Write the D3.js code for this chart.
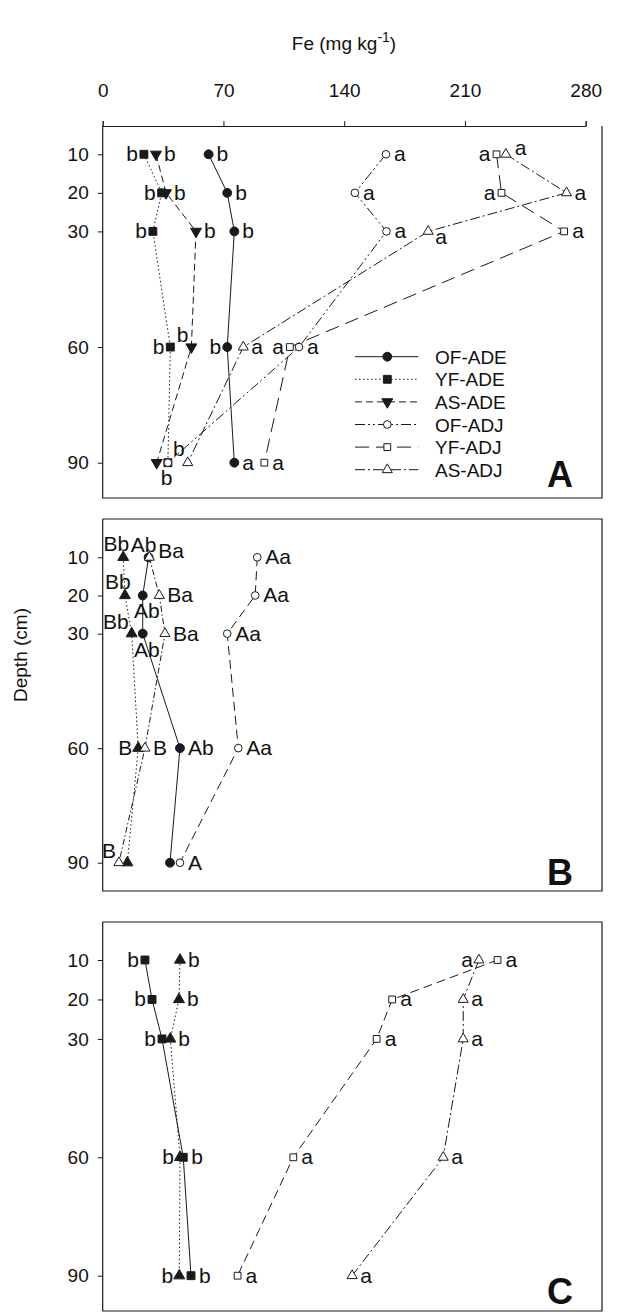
<!DOCTYPE html>
<html>
<head>
<meta charset="utf-8">
<script src="https://cdn.jsdelivr.net/npm/d3@7"></script>
<style>
  body { margin: 0; background: #fff; }
  svg text { font-family: "Liberation Sans", Arial, sans-serif; fill: #111; }
</style>
</head>
<body>
<div id="chart"></div>
<script>
// ---- data ----
var depths = [10, 20, 30, 60, 90];
var depthTicks = [10, 20, 30, 60, 90];
var feTicks = [0, 70, 140, 210, 280];
var seriesNames = ["OF-ADE", "YF-ADE", "AS-ADE", "OF-ADJ", "YF-ADJ", "AS-ADJ"];

// panel A
var aOFADE = [61.4, 72.2, 76.3, 72.2, 76.3];
var aYFADE = [23.9, 34.2, 29.1, 39.2, 37.8];
var aASADE = [30.9, 36.7, 54.1, 51.4, 31.3];
var aOFADJ = [164.2, 146.2, 164.5, 113.8, 37.8];
var aYFADJ = [228.3, 231.2, 267.5, 108.5, 93.7];
var aASADJ = [233.7, 268.9, 188.7, 81.5, 49.3];
var aLetOFADE = ["b", "b", "b", "b", "a"];
var aLetYFADE = ["b", "b", "b", "b", "b"];
var aLetASADE = ["b", "b", "b", "b", "b"];
var aLetOFADJ = ["a", "a", "a", "a", ""];
var aLetYFADJ = ["a", "a", "a", "a", "a"];
var aLetASADJ = ["a", "a", "a", "a", ""];

// panel B
var bOFADE = [26.6, 23.2, 23.2, 44.8, 39.0];
var bASADE = [11.9, 12.9, 16.8, 20.6, 14.3];
var bASADJ = [27.0, 32.8, 36.1, 24.5, 9.4];
var bOFADJ = [89.6, 88.4, 72.2, 78.6, 44.8];
var bLetOFADE = ["Ab", "Ab", "Ab", "Ab", ""];
var bLetASADE = ["Bb", "Bb", "Bb", "B", ""];
var bLetASADJ = ["Ba", "Ba", "Ba", "B", "B"];
var bLetOFADJ = ["Aa", "Aa", "Aa", "Aa", "A"];

// panel C
var cYFADE = [24.5, 28.6, 34.4, 46.7, 51.2];
var cASADE = [44.8, 44.2, 39.2, 44.8, 44.4];
var cYFADJ = [228.9, 167.8, 158.8, 110.5, 78.2];
var cASADJ = [218.1, 209.0, 209.0, 197.4, 144.6];
var cLetYFADE = ["b", "b", "b", "b", "b"];
var cLetASADE = ["b", "b", "b", "b", "b"];
var cLetYFADJ = ["a", "a", "a", "a", "a"];
var cLetASADJ = ["a", "a", "a", "a", "a"];

function init() {
    var w = 624;
    var h = 1312;
    var ink = "#1a1a1a";
    var letterSize = 21;

    var svg = d3.select("#chart").append("svg")
        .attr("width", w)
        .attr("height", h);

    var xScale = d3.scaleLinear().domain([0, 280]).range([102.7, 585.7]);
    var frameRight = 602;

    // marker + line looks
    var sym = {
        circle: d3.symbolCircle,
        square: d3.symbolSquare,
        tri: d3.symbolTriangle
    };
    var dash = {
        solid: null,
        dot: "1.5,2.5",
        dash: "7,4",
        dashDotDot: "10,3,2,3,2,3",
        longDash: "14,7",
        dashDot: "10,3,2,3",
        medDash: "9,5",
        dotDash: "6,2.5,1.5,2.5"
    };

    // label offsets [dx, dy, anchor]
    var place = {
        r: [8, 7, "start"],
        l: [-6, 7, "end"],
        ur: [9, 1, "start"],
        ul: [-3, -5, "end"],
        lr: [7, 13, "start"],
        t: [-5, -5, "middle"],
        tl: [-7, -6, "middle"],
        b: [4, 23, "middle"],
        tr: [5, -7, "start"],
        bb: [10, 22, "middle"]
    };

    var panels = [
        {
            letter: "A", top: 126, bottom: 498, y10: 154.3, y90: 462.7,
            series: [
                { vals: aOFADE, lets: aLetOFADE, shape: "circle", filled: true, line: "solid", pos: ["r", "r", "r", "l", "r"] },
                { vals: aYFADE, lets: aLetYFADE, shape: "square", filled: true, line: "dot", pos: ["l", "l", "l", "l", "tr"] },
                { vals: aASADE, lets: aLetASADE, shape: "tri", down: true, filled: true, line: "dash", pos: ["r", "r", "r", "ul", "bb"] },
                { vals: aOFADJ, lets: aLetOFADJ, shape: "circle", filled: false, line: "dashDotDot", pos: ["r", "r", "r", "r", "r"] },
                { vals: aYFADJ, lets: aLetYFADJ, shape: "square", filled: false, line: "longDash", pos: ["l", "l", "r", "l", "r"] },
                { vals: aASADJ, lets: aLetASADJ, shape: "tri", filled: false, line: "dashDot", pos: ["ur", "r", "lr", "r", "r"] }
            ]
        },
        {
            letter: "B", top: 519, bottom: 891, y10: 557.3, y90: 862.7,
            series: [
                { vals: bOFADE, lets: bLetOFADE, shape: "circle", filled: true, line: "solid", pos: ["t", "b", "b", "r", "r"] },
                { vals: bASADE, lets: bLetASADE, shape: "tri", filled: true, line: "dot", pos: ["tl", "tl", "ul", "l", "l"] },
                { vals: bASADJ, lets: bLetASADJ, shape: "tri", filled: false, line: "dotDash", pos: ["ur", "r", "r", "r", "ul"] },
                { vals: bOFADJ, lets: bLetOFADJ, shape: "circle", filled: false, line: "medDash", pos: ["r", "r", "r", "r", "r"] }
            ]
        },
        {
            letter: "C", top: 922, bottom: 1311, y10: 960, y90: 1275.7,
            series: [
                { vals: cYFADE, lets: cLetYFADE, shape: "square", filled: true, line: "solid", pos: ["l", "l", "l", "r", "r"] },
                { vals: cASADE, lets: cLetASADE, shape: "tri", filled: true, line: "dot", pos: ["r", "r", "r", "l", "l"] },
                { vals: cYFADJ, lets: cLetYFADJ, shape: "square", filled: false, line: "medDash", pos: ["r", "r", "r", "r", "r"] },
                { vals: cASADJ, lets: cLetASADJ, shape: "tri", filled: false, line: "dashDot", pos: ["l", "r", "r", "r", "r"] }
            ]
        }
    ];

    function symbolPath(s) {
        var size = s.filled ? (s.shape === "tri" ? 52 : 62) : (s.shape === "tri" ? 44 : 46);
        return d3.symbol().type(sym[s.shape]).size(size)();
    }

    function drawMarker(g, s, x, y) {
        g.append("path")
            .attr("d", symbolPath(s))
            .attr("transform", "translate(" + x + "," + y + ")" + (s.down ? " rotate(180)" : ""))
            .attr("fill", s.filled ? ink : "#fff")
            .attr("stroke", ink)
            .attr("stroke-width", 1);
    }

    // top axis + title
    svg.append("g")
        .attr("transform", "translate(0," + panels[0].top + ")")
        .call(d3.axisTop(xScale).tickValues(feTicks).tickSize(5).tickSizeOuter(5).tickPadding(24))
        .call(function (g) {
            g.selectAll("line, path").attr("stroke", ink);
            g.selectAll("text").attr("font-size", 19).attr("font-family", "Liberation Sans, Arial, sans-serif").attr("fill", ink);
        });

    var title = svg.append("text")
        .attr("x", 344)
        .attr("y", 50)
        .attr("text-anchor", "middle")
        .attr("font-size", 19);
    title.append("tspan").text("Fe (mg kg");
    title.append("tspan").attr("font-size", 14).attr("dy", -8).text("-1");
    title.append("tspan").attr("dy", 8).text(")");

    svg.append("text")
        .attr("transform", "translate(27,655) rotate(-90)")
        .attr("text-anchor", "middle")
        .attr("font-size", 19)
        .text("Depth (cm)");

    panels.forEach(function (p, pi) {
        var yScale = d3.scaleLinear().domain([10, 90]).range([p.y10, p.y90]);
        var g = svg.append("g");

        // frame (left, bottom, right; top is the axis for A)
        var x0 = xScale.range()[0];
        g.append("path")
            .attr("d", "M" + x0 + "," + p.top + "V" + p.bottom + "H" + frameRight + "V" + p.top + (pi > 0 ? "H" + x0 : ""))
            .attr("fill", "none")
            .attr("stroke", ink)
            .attr("stroke-width", 1.2);

        g.append("g")
            .attr("transform", "translate(" + x0 + ",0)")
            .call(d3.axisLeft(yScale).tickValues(depthTicks).tickSize(5).tickPadding(9))
            .call(function (a) {
                a.select(".domain").remove();
                a.selectAll("line").attr("stroke", ink);
                a.selectAll("text").attr("font-size", 19).attr("font-family", "Liberation Sans, Arial, sans-serif").attr("fill", ink);
            });

        var line = d3.line()
            .x(function (d) { return xScale(d[0]); })
            .y(function (d) { return yScale(d[1]); });

        p.series.forEach(function (s) {
            var pts = s.vals.map(function (v, i) { return [v, depths[i]]; });
            g.append("path")
                .datum(pts)
                .attr("d", line)
                .attr("fill", "none")
                .attr("stroke", ink)
                .attr("stroke-width", 1)
                .attr("stroke-dasharray", dash[s.line]);
        });

        p.series.forEach(function (s) {
            s.vals.forEach(function (v, i) {
                drawMarker(g, s, xScale(v), yScale(depths[i]));
            });
        });

        p.series.forEach(function (s) {
            s.vals.forEach(function (v, i) {
                if (!s.lets[i]) return;
                var o = place[s.pos[i]];
                g.append("text")
                    .attr("x", xScale(v) + o[0])
                    .attr("y", yScale(depths[i]) + o[1])
                    .attr("text-anchor", o[2])
                    .attr("font-size", letterSize)
                    .text(s.lets[i]);
            });
        });

        g.append("text")
            .attr("x", 573)
            .attr("y", p.letter === "A" ? 487 : (p.letter === "B" ? 885 : 1304))
            .attr("text-anchor", "end")
            .attr("font-size", 36)
            .attr("font-weight", "bold")
            .text(p.letter);
    });

    // legend in panel A
    var leg = svg.append("g");
    var legStyles = panels[0].series;
    seriesNames.forEach(function (name, i) {
        var y = 356.7 + i * 22.6;
        var s = legStyles[i];
        leg.append("line")
            .attr("x1", 355).attr("x2", 418.3)
            .attr("y1", y).attr("y2", y)
            .attr("stroke", ink)
            .attr("stroke-width", 1)
            .attr("stroke-dasharray", dash[s.line]);
        drawMarker(leg, s, 387.3, y);
        leg.append("text")
            .attr("x", 435)
            .attr("y", y + 7)
            .attr("font-size", 19)
            .text(name);
    });
}

window.onload = init;
</script>
</body>
</html>
